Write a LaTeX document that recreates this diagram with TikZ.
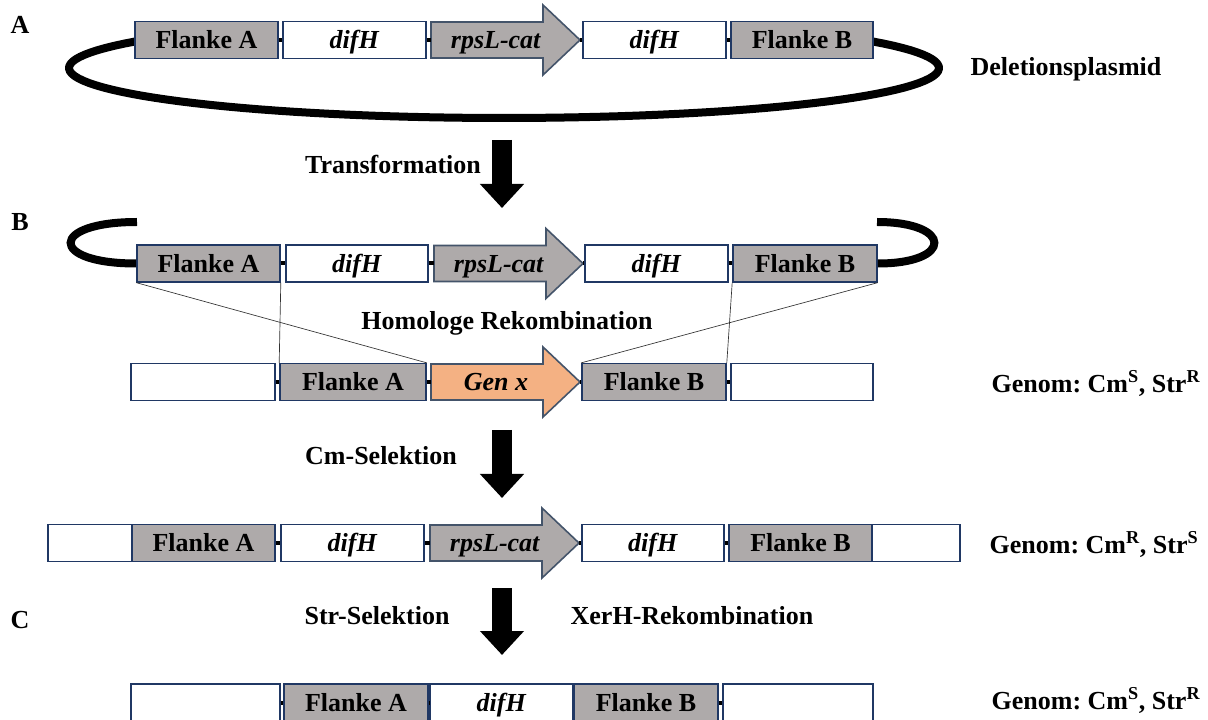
\documentclass[tikz,border=0pt]{standalone}
\usepackage{fontspec}
\setmainfont{Liberation Serif}
\usetikzlibrary{arrows.meta}

\definecolor{flankgray}{HTML}{AEAAAA}
\definecolor{boxline}{HTML}{203864}
\definecolor{genorange}{HTML}{F4B183}
\definecolor{arrline}{HTML}{44546A}

% gene arrow: name, left x, centre y, fill, text
\newcommand{\genarrow}[5]{%
  \draw[genearrow, fill=#4] (#2,#3-18) -- (#2+112,#3-18) -- (#2+112,#3-35)
    -- (#2+149,#3) -- (#2+112,#3+35) -- (#2+112,#3+18) -- (#2,#3+18) -- cycle;
  \coordinate (#1-l) at (#2,#3);
  \coordinate (#1-t) at (#2+149,#3);
  \node[txt] (#1) at (#2+65,#3) {#5};
}

\begin{document}
\frenchspacing
\begin{tikzpicture}[x={(0.75pt,0)}, y={(0,-0.75pt)},
    txt/.style={font=\fontsize{19.5}{23}\selectfont\bfseries, inner sep=0pt,
        text height=13pt, text depth=0pt},
    box/.style={txt, draw=boxline, line width=1.2pt, minimum height=27.5pt},
    boxw/.style={minimum width=#1*0.75pt},
    flank/.style={box, fill=flankgray},
    plain/.style={box, fill=white},
    genearrow/.style={draw=arrline, line width=1.2pt, line join=miter},
    bar/.style={line width=3pt, black},
    backbone/.style={line width=6pt, black},
    thinline/.style={line width=0.5pt, black!80},
    blockarrow/.style={line width=15pt, -{Triangle[length=18pt,width=32pt]}}]
    \useasboundingbox (0,0) rectangle (1208,720);

    % A: plasmid
    \draw[backbone] plot[domain=148:392, samples=90] ({504+435*cos(\x)}, {68-50*sin(\x)});
    \node[flank, boxw=143] (a1) at (206.5,40) {Flanke A};
    \node[plain, boxw=143] (a2) at (354.5,40) {\textit{difH}};
    \genarrow{ra}{431}{40}{flankgray}{\textit{rpsL-cat}}
    \node[plain, boxw=143] (a4) at (654.5,40) {\textit{difH}};
    \node[flank, boxw=142] (a5) at (802,40) {Flanke B};
    \node[txt] (lbla) at (20,25) {A};
    \node[txt] (dels) at (1066,67) {Deletionsplasmid};

    \coordinate (t1s) at (502,140);
    \coordinate (t1e) at (502,208);
    \draw[blockarrow] (t1s) -- (t1e);
    \node[txt] (trans) at (393,165) {Transformation};

    % B: plasmid over genome
    \node[flank, boxw=143] (b1) at (208.5,263.5) {Flanke A};
    \node[plain, boxw=142] (b2) at (357,263.5) {\textit{difH}};
    \genarrow{rb}{434}{263.5}{flankgray}{\textit{rpsL-cat}}
    \node[plain, boxw=143] (b4) at (656.5,263.5) {\textit{difH}};
    \node[flank, boxw=144] (b5) at (805,263.5) {Flanke B};
    \coordinate (pl) at (137,222);
    \coordinate (pr) at (877,222);
    \draw[backbone] (b1.west) .. controls +(-88,0) and +(-88,0) .. (pl);
    \draw[backbone] (b5.east) .. controls +(76,0) and +(76,0) .. (pr);
    \node[txt] (lblb) at (20,222) {B};
    \node[txt] (homrek) at (507,321) {Homologe Rekombination};

    \node[plain, boxw=144] (g0) at (203,382) {};
    \node[flank, boxw=146] (g1) at (353,382) {Flanke A};
    \genarrow{gx}{431}{382}{genorange}{\textit{Gen x}}
    \node[flank, boxw=144] (g3) at (654,382) {Flanke B};
    \node[plain, boxw=142] (g4) at (802,382) {};
    \node[txt] (gen1) at (1096,384) {Genom: Cm\textsuperscript{S}, Str\textsuperscript{R}};

    \draw[thinline] (b1.south west) -- (g1.north east);
    \draw[thinline] (b1.south east) -- (g1.north west);
    \draw[thinline] (b5.south west) -- (g3.north east);
    \draw[thinline] (b5.south east) -- (g3.north west);

    \coordinate (t2s) at (502,430);
    \coordinate (t2e) at (502,498);
    \draw[blockarrow] (t2s) -- (t2e);
    \node[txt] (cmsel) at (381,456) {Cm-Selektion};

    % after Cm selection
    \node[plain, boxw=84] (d0) at (90,543) {};
    \node[flank, boxw=143] (d1) at (203.5,543) {Flanke A};
    \node[plain, boxw=143] (d2) at (352.5,543) {\textit{difH}};
    \genarrow{rd}{430}{543}{flankgray}{\textit{rpsL-cat}}
    \node[plain, boxw=142] (d4) at (653,543) {\textit{difH}};
    \node[flank, boxw=143] (d5) at (800.5,543) {Flanke B};
    \node[plain, boxw=88] (d6) at (916,543) {};
    \node[txt] (gen2) at (1094,545) {Genom: Cm\textsuperscript{R}, Str\textsuperscript{S}};

    % C: XerH recombination
    \coordinate (t3s) at (502,588);
    \coordinate (t3e) at (502,655);
    \draw[blockarrow] (t3s) -- (t3e);
    \node[txt] (lblc) at (20,620) {C};
    \node[txt] (strsel) at (377,616) {Str-Selektion};
    \node[txt] (xerh) at (692,616) {XerH-Rekombination};

    \node[plain, boxw=149] (f0) at (205.5,702.5) {};
    \node[flank, boxw=144] (f1) at (356,702.5) {Flanke A};
    \node[plain, boxw=143] (f2) at (501.5,702.5) {\textit{difH}};
    \node[flank, boxw=144] (f3) at (646,702.5) {Flanke B};
    \node[plain, boxw=150] (f4) at (798,702.5) {};
    \node[txt] (gen3) at (1096,701) {Genom: Cm\textsuperscript{S}, Str\textsuperscript{R}};

    % backbone between the pieces
    \foreach \p/\q in {a1/a2, a2/ra-l, ra-t/a4, a4/a5,
                       b1/b2, b2/rb-l, rb-t/b4, b4/b5,
                       g0/g1, g1/gx-l, gx-t/g3, g3/g4,
                       d1/d2, d2/rd-l, rd-t/d4, d4/d5,
                       f0/f1, f1/f2, f3/f4}
        \draw[bar] (\p.east) -- (\q.west);
\end{tikzpicture}
\end{document}
